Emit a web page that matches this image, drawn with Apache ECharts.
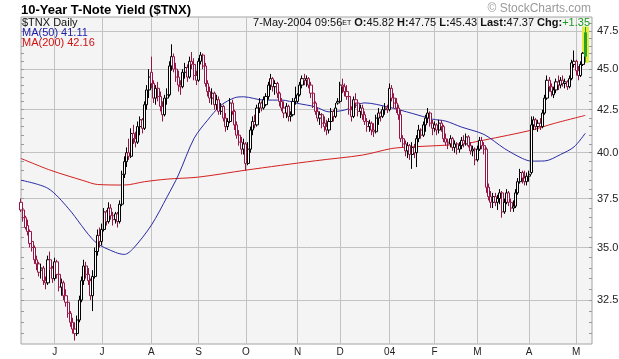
<!DOCTYPE html>
<html><head><meta charset="utf-8">
<script src="https://cdn.jsdelivr.net/npm/echarts@6/dist/echarts.min.js"></script>
<style>html,body{margin:0;padding:0;background:#fff}#c{width:619px;height:359px}</style>
</head><body><div id="c"></div>
<script>
const startDate = '2003-05-09';
const holidays = ['2003-05-26','2003-07-04','2003-09-01','2003-11-27','2003-12-25','2004-01-01','2004-01-19','2004-02-16','2004-04-09'];
const padDays = 3;
const monthLabels = ['J','J','A','S','O','N','D','04','F','M','A','M'];
const yTicks = [32.5,35,37.5,40,42.5,45,47.5];
const yMin = 30.55, yMax = 48.43;
const headerDate = '7-May-2004 09:56';

const open = [
37.3,36.9,36.5,36.1,35.8,35.3,35.0,34.4,34.2,33.9,
34.0,33.4,33.3,34.4,34.0,33.5,34.3,33.7,33.1,33.3,
32.7,32.4,31.9,31.5,31.2,31.0,31.6,32.5,33.4,34.1,
33.7,33.4,32.7,33.6,34.8,35.6,35.3,35.9,36.8,36.3,
37.0,36.6,36.4,36.7,36.3,37.2,38.8,39.5,40.0,39.8,
41.1,40.8,40.6,41.5,41.9,41.4,42.8,43.7,44.8,44.1,
43.2,43.8,43.3,42.7,42.2,43.2,43.4,45.2,45.8,45.0,
44.5,44.0,43.9,44.8,45.1,44.5,45.5,45.3,44.6,44.3,
45.5,45.9,45.2,44.1,43.6,43.2,43.5,42.8,43.1,42.4,
42.7,42.0,41.5,41.8,42.9,42.4,41.6,41.0,40.6,40.2,
40.5,39.4,40.2,41.3,41.8,41.6,42.6,42.9,42.6,42.8,
43.3,44.0,44.4,43.9,44.1,43.5,43.0,42.6,42.3,42.7,
42.1,42.2,43.0,43.0,43.4,44.0,44.4,44.3,44.4,44.0,
43.5,42.9,42.4,42.0,42.2,41.7,41.5,41.3,41.8,42.4,
42.1,42.9,43.0,44.0,43.9,43.6,43.3,42.5,42.1,43.1,
42.9,42.4,42.6,42.2,41.8,41.5,41.7,41.3,41.2,42.0,
42.3,42.1,42.5,42.6,42.5,43.8,43.2,42.9,42.6,42.2,
40.8,40.5,40.1,40.4,39.9,40.3,40.0,40.8,41.3,41.0,
41.6,42.0,42.3,41.7,41.4,41.6,41.3,41.7,41.5,40.8,
40.6,40.5,40.8,40.3,40.5,40.2,40.4,40.7,40.5,40.9,
40.4,40.1,40.2,39.6,40.2,40.7,40.4,40.2,38.1,37.6,
37.3,37.6,37.3,37.5,37.8,36.8,37.3,37.8,37.3,37.0,
37.1,37.8,38.4,38.9,38.6,38.4,38.7,38.9,41.6,41.9,
41.5,41.7,41.5,42.3,43.2,44.3,43.9,43.4,43.7,44.2,
44.0,44.3,44.1,44.2,43.9,44.4,45.3,45.5,44.9,44.6,
45.3,45.82];
const high = [
37.5,37.0,36.6,36.4,35.9,35.5,35.1,34.6,34.3,34.2,
34.1,33.6,34.6,34.8,34.1,34.5,34.4,33.9,33.5,33.4,
33.0,32.5,32.0,31.7,31.5,31.8,32.7,33.6,34.4,34.3,
34.0,33.5,33.9,35.0,35.9,36.0,36.2,37.0,36.9,37.3,
37.2,36.8,36.8,36.8,37.4,39.0,39.8,40.3,40.8,41.4,
41.6,41.2,41.8,42.1,42.0,43.0,44.0,45.0,45.8,44.3,
44.0,44.2,43.6,43.0,43.4,43.8,45.5,46.6,46.0,45.4,
44.9,44.3,45.0,45.4,45.3,45.8,46.1,45.7,44.9,45.7,
46.1,46.0,45.4,44.3,43.9,43.8,43.6,43.4,43.3,42.9,
42.8,42.3,42.0,43.2,43.1,42.5,41.8,41.3,40.9,40.8,
40.6,40.6,41.5,42.1,42.2,42.8,43.2,43.0,43.3,43.5,
44.2,44.7,44.5,44.3,44.2,43.6,43.2,43.0,42.9,42.8,
42.4,43.2,43.9,43.5,44.2,44.6,44.7,44.6,44.5,44.2,
43.7,43.0,42.6,42.4,42.3,42.1,41.9,42.0,42.6,42.5,
42.9,43.2,44.2,44.4,44.1,44.0,43.4,42.7,43.3,43.5,
43.0,42.8,42.8,42.4,42.0,41.9,41.8,41.7,42.2,42.6,
42.4,42.7,42.9,42.8,44.1,44.0,43.5,43.2,42.8,42.5,
41.0,40.7,40.6,40.5,40.6,40.5,41.0,41.6,41.4,41.8,
42.2,42.6,42.4,41.9,41.8,41.7,41.9,41.9,41.6,41.1,
40.8,41.0,40.9,40.7,40.6,40.6,40.9,41.0,41.1,41.0,
40.6,40.4,40.3,40.4,40.9,40.9,40.6,40.3,38.3,37.9,
37.8,37.8,37.7,38.0,37.9,37.5,38.0,37.9,37.5,37.4,
38.0,38.6,39.1,39.0,39.0,38.9,39.0,42.1,42.1,42.0,
41.9,42.0,42.5,43.4,44.6,44.5,44.1,43.9,44.4,44.6,
44.5,44.6,44.4,44.3,44.6,45.6,46.2,45.6,45.2,45.5,
46.1,47.75];
const low = [
36.8,36.3,35.9,35.6,35.0,34.8,34.2,33.9,33.6,33.5,
33.2,33.0,33.2,33.9,33.3,33.4,33.5,32.9,32.7,32.5,
32.2,31.7,31.3,31.0,30.7,30.9,31.5,32.4,33.2,33.5,
33.2,32.5,32.0,33.5,34.6,35.0,35.1,35.8,36.1,36.2,
36.4,36.1,36.2,36.0,36.2,37.1,38.6,39.2,39.6,39.7,
40.5,40.3,40.5,41.0,41.1,41.3,42.5,43.2,43.8,42.9,
42.8,43.0,42.4,41.8,42.1,42.8,43.3,44.9,44.8,44.2,
43.6,43.4,43.8,44.4,44.2,44.4,45.0,44.3,44.0,44.2,
45.3,45.0,43.9,43.3,42.9,42.8,42.5,42.5,42.2,42.2,
41.8,41.2,41.3,41.7,42.2,41.3,40.8,40.4,39.9,39.9,
39.0,39.3,40.0,41.0,41.4,41.5,42.3,42.4,42.5,42.7,
43.1,43.7,43.6,43.4,43.2,42.7,42.4,42.0,42.0,41.8,
41.8,42.1,42.8,42.9,43.3,43.8,44.0,43.9,43.8,43.2,
42.6,42.2,41.8,41.6,41.4,41.2,41.0,41.1,41.6,41.8,
42.0,42.8,42.9,43.5,43.3,43.1,42.2,41.8,42.0,42.6,
42.1,42.0,41.9,41.6,41.2,41.2,41.0,40.9,41.1,41.6,
41.8,42.0,42.2,42.3,42.4,43.0,42.6,42.3,41.9,40.6,
40.3,39.8,39.7,39.6,39.1,39.7,39.2,40.6,40.8,40.9,
41.2,41.7,41.5,41.0,41.2,41.0,41.1,41.2,40.6,40.4,
40.2,40.3,40.1,40.0,39.9,40.0,40.2,40.3,40.4,40.3,
39.9,39.8,39.3,39.5,40.1,40.2,39.9,37.8,37.4,37.0,
37.0,37.1,36.9,37.2,36.5,36.7,37.2,37.1,36.8,36.8,
37.0,37.7,38.3,38.3,38.2,38.2,38.4,38.8,41.3,41.3,
41.2,41.3,41.4,42.2,43.1,43.6,43.3,43.2,43.5,43.7,
43.8,43.9,43.8,43.7,43.8,44.3,45.1,44.6,44.3,44.5,
45.2,45.43];
const close = [
36.9,36.5,36.0,35.8,35.2,35.0,34.4,34.2,33.8,34.0,
33.4,33.3,34.4,34.0,33.5,34.3,33.7,33.1,33.3,32.7,
32.4,31.9,31.5,31.2,31.0,31.6,32.5,33.4,34.1,33.7,
33.4,32.7,33.6,34.8,35.6,35.3,35.9,36.8,36.3,37.0,
36.6,36.4,36.7,36.3,37.2,38.8,39.5,40.0,39.8,41.1,
40.8,40.6,41.5,41.9,41.4,42.8,43.7,44.5,44.1,43.2,
43.8,43.3,42.7,42.2,43.2,43.4,45.2,45.8,45.0,44.5,
44.0,43.9,44.8,45.1,44.5,45.5,45.3,44.6,44.3,45.5,
45.9,45.2,44.1,43.6,43.2,43.5,42.8,43.1,42.4,42.7,
42.0,41.5,41.8,42.9,42.4,41.6,41.0,40.6,40.2,40.5,
39.4,40.2,41.3,41.8,41.6,42.6,42.9,42.6,43.1,43.3,
44.0,44.4,43.9,44.1,43.5,43.0,42.6,42.3,42.7,42.1,
42.2,43.0,43.2,43.4,44.0,44.4,44.3,44.4,44.0,43.5,
42.9,42.4,42.0,42.2,41.7,41.5,41.3,41.8,42.4,42.1,
42.6,43.0,44.0,43.9,43.6,43.3,42.5,42.1,43.1,42.9,
42.4,42.6,42.2,41.8,41.5,41.7,41.3,41.2,42.0,42.3,
42.1,42.5,42.6,42.5,43.8,43.2,42.9,42.6,42.2,40.8,
40.5,40.1,40.4,39.9,40.3,40.0,40.8,41.3,41.0,41.6,
42.0,42.3,41.7,41.4,41.6,41.3,41.7,41.5,40.8,40.6,
40.5,40.8,40.3,40.5,40.2,40.4,40.7,40.5,40.9,40.4,
40.1,40.2,39.6,40.2,40.7,40.4,40.2,38.1,37.6,37.3,
37.6,37.3,37.5,37.8,36.8,37.3,37.8,37.3,37.0,37.1,
37.8,38.4,38.9,38.6,38.4,38.7,38.8,41.6,41.9,41.5,
41.7,41.5,42.3,43.2,44.3,43.9,43.6,43.7,44.2,44.0,
44.3,44.1,44.2,43.9,44.4,45.4,45.5,44.9,44.6,45.3,
46.02,47.37];

const ma50 = [[0,38.48],[12,38.04],[21,36.99],[33,35.28],[42,34.76],[46,34.66],[50,34.96],[58,36.12],[65,37.59],[70,38.76],[77,40.82],[83,41.88],[89,42.77],[95,43.22],[99,43.28],[108,43.08],[116,43.08],[123,42.88],[131,42.67],[137,42.37],[144,42.48],[153,42.91],[163,42.67],[174,42.28],[183,41.94],[189,41.82],[196,41.47],[206,41.04],[215,40.24],[223,39.68],[227,39.53],[233,39.54],[240,39.90],[246,40.33],[251,41.11]];
const ma200 = [[0,39.68],[13,39.03],[28,38.45],[34,38.25],[46,38.22],[55,38.40],[65,38.54],[79,38.65],[100,39.03],[131,39.55],[152,39.87],[165,40.24],[174,40.33],[196,40.49],[206,40.72],[227,41.29],[237,41.68],[251,42.16]];

const FONT = '"Liberation Sans", Arial, sans-serif';
const RED = '#951646', BLACK = '#000000', GREEN = '#2aa02a', HOLLOW = '#ffffff';
const L = Math.log;

function tradingDates(start, count, hol) {
  const out = []; const hs = new Set(hol);
  let d = new Date(start + 'T00:00:00Z');
  while (out.length < count) {
    const dow = d.getUTCDay(); const s = d.toISOString().slice(0, 10);
    if (dow !== 0 && dow !== 6 && !hs.has(s)) out.push(s);
    d = new Date(d.getTime() + 86400000);
  }
  return out;
}
const dates = tradingDates(startDate, close.length + padDays, holidays);
const monthStarts = [];
for (let i = 1; i < dates.length; i++) if (dates[i].slice(5, 7) !== dates[i - 1].slice(5, 7)) monthStarts.push(i);
const labelAt = {}; monthStarts.forEach((idx, k) => { labelAt[idx] = monthLabels[k]; });
const isMonth = (idx) => labelAt[idx] !== undefined;

const last = close.length - 1;
const candles = close.map((c, i) => {
  const prev = i > 0 ? close[i - 1] : open[i];
  const col = i === last ? GREEN : (c < prev ? RED : BLACK);
  return { value: [L(open[i]), L(c), L(low[i]), L(high[i])],
    itemStyle: { color: i === last ? GREEN : HOLLOW, color0: col, borderColor: col, borderColor0: col, borderWidth: 1 } };
});
const highlight = close.map((c, i) => i === last ? [L(low[i]), L(high[i]), L(low[i]), L(high[i])] : '-');

const minorTicks = [];
for (let v = 31; v <= 48.01; v += 0.5) minorTicks.push(L(v));

const chg = close[last] - close[last - 1];
const fmt = (v) => v.toFixed(2);
const headerText = '{n|' + headerDate + '}{s|ET} {b|O:}{n|' + fmt(open[last]) + '} {b|H:}{n|' + fmt(high[last]) +
  '} {b|L:}{n|' + fmt(low[last]) + '} {b|Last:}{n|' + fmt(close[last]) + '} {b|Chg:}{g|' + (chg >= 0 ? '+' : '') + fmt(chg) + '}';

const chart = echarts.init(document.getElementById('c'), null, { renderer: 'canvas', width: 619, height: 359 });
const minorAxis = (pos) => ({
  type: 'value', position: pos, min: L(yMin), max: L(yMax),
  axisLine: { show: false }, axisLabel: { show: false }, splitLine: { show: false },
  axisTick: { show: true, inside: true, length: 3, customValues: minorTicks, lineStyle: { color: '#9a9a9a', width: 1 } }
});
chart.setOption({
  animation: false,
  backgroundColor: '#ffffff',
  grid: { left: 21, right: 27, top: 17, bottom: 15, show: true, backgroundColor: '#f4f4f4', borderColor: '#a4a4a4', borderWidth: 1, outerBoundsMode: 'none', containLabel: false },
  xAxis: {
    type: 'category', data: dates, boundaryGap: false,
    axisLine: { show: false }, axisTick: { show: false },
    axisLabel: { interval: (idx) => isMonth(idx), formatter: (v, idx) => labelAt[idx] || '', color: '#222', fontSize: 10, fontFamily: FONT, margin: 3 },
    splitLine: { show: true, interval: (idx) => isMonth(idx), lineStyle: { color: '#c2c2c2', width: 1 } }
  },
  yAxis: [
    {
      type: 'value', position: 'right', min: L(yMin), max: L(yMax),
      axisLine: { show: false },
      axisTick: { show: false, customValues: yTicks.map(L) },
      axisLabel: { customValues: yTicks.map(L), formatter: (v) => Math.exp(v).toFixed(1), color: '#222', fontSize: 11, fontFamily: FONT, margin: 5 },
      splitLine: { show: true, lineStyle: { color: '#c2c2c2', width: 1 } }
    },
    minorAxis('right'),
    minorAxis('left')
  ],
  series: [
    { type: 'candlestick', data: highlight, barWidth: 6, z: 2, itemStyle: { color: '#e2ec3a', color0: '#e2ec3a', borderColor: '#e2ec3a', borderColor0: '#e2ec3a' } },
    { type: 'line', data: ma200.map(p => [p[0], L(p[1])]), smooth: 0.3, showSymbol: false, lineStyle: { color: '#d42020', width: 1 }, z: 3 },
    { type: 'line', data: ma50.map(p => [p[0], L(p[1])]), smooth: 0.3, showSymbol: false, lineStyle: { color: '#2a2aa6', width: 1 }, z: 3 },
    { type: 'candlestick', data: candles, barWidth: 2.6, z: 4 }
  ],
  graphic: [
    { type: 'text', x: 21, y: 10, style: { text: '10-Year T-Note Yield ($TNX)', font: 'bold 13px ' + FONT, fill: '#000', verticalAlign: 'middle', textVerticalAlign: 'middle' } },
    { type: 'text', x: 591, y: 9, style: { text: '\u00a9 StockCharts.com', font: '12px ' + FONT, fill: '#9a9a9a', align: 'right', textAlign: 'right', verticalAlign: 'middle', textVerticalAlign: 'middle' } },
    { type: 'text', x: 22, y: 23, z: 10, style: { text: '$TNX Daily', font: '11px ' + FONT, fill: '#111', verticalAlign: 'middle', textVerticalAlign: 'middle' } },
    { type: 'text', x: 22, y: 33, z: 10, style: { text: 'MA(50) ' + ma50[ma50.length - 1][1].toFixed(2), font: '11px ' + FONT, fill: '#2020a8', verticalAlign: 'middle', textVerticalAlign: 'middle' } },
    { type: 'text', x: 22, y: 43, z: 10, style: { text: 'MA(200) ' + ma200[ma200.length - 1][1].toFixed(2), font: '11px ' + FONT, fill: '#d01010', verticalAlign: 'middle', textVerticalAlign: 'middle' } },
    { type: 'text', x: 590, y: 23, z: 10, style: { text: headerText, font: '11px ' + FONT, fill: '#111', align: 'right', textAlign: 'right', verticalAlign: 'middle', textVerticalAlign: 'middle',
      rich: { n: { font: '11px ' + FONT, fill: '#111' }, s: { font: '7px ' + FONT, fill: '#111' }, b: { font: 'bold 11px ' + FONT, fill: '#111' }, g: { font: '11px ' + FONT, fill: '#1a9a1a' } } } }
  ]
});
</script></body></html>
